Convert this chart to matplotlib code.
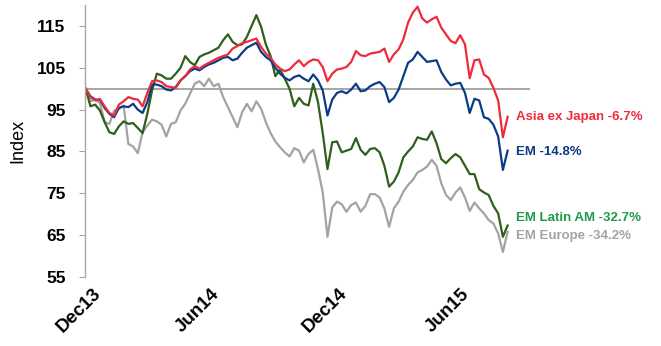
import numpy as np
import pandas as pd
import matplotlib
matplotlib.use("Agg")
import matplotlib.pyplot as plt

# weekly index levels, rebased to 100 at the start of Dec 2013
dates = pd.date_range("2013-12-02", periods=90, freq="7D")

asia_ex_japan = [
    100.0, 98.0, 97.2, 97.5, 95.8, 94.2, 93.6, 96.2, 97.0, 98.0,
    97.6, 97.4, 95.8, 99.0, 101.8, 102.0, 101.6, 100.6, 100.4, 100.2,
    102.0, 103.0, 104.6, 105.4, 104.8, 105.6, 106.2, 106.8, 107.4, 107.8,
    108.2, 109.6, 110.2, 110.9, 111.2, 111.6, 112.0, 110.0, 108.4, 107.4,
    105.8, 104.8, 104.2, 104.6, 105.8, 106.8, 105.4, 106.4, 107.0, 106.8,
    105.2, 101.8, 103.6, 104.6, 104.8, 105.2, 106.4, 109.0, 108.0, 107.8,
    108.4, 108.6, 108.8, 109.6, 106.4, 108.2, 109.4, 111.8, 115.8, 118.2,
    119.6, 116.8, 115.8, 116.6, 117.2, 114.6, 113.0, 111.4, 110.9, 112.8,
    110.6, 102.5, 106.8, 107.0, 103.4, 102.6, 100.2, 97.2, 88.4, 93.3,
]
em = [
    100.0, 98.2, 97.4, 97.4, 95.4, 94.0, 93.2, 95.4, 95.8, 95.6,
    96.4, 95.0, 94.2, 96.8, 101.0, 101.0, 100.6, 99.8, 99.6, 100.4,
    102.0, 103.0, 104.2, 104.8, 104.4, 105.2, 105.8, 106.2, 106.8, 107.4,
    107.6, 106.8, 107.2, 108.6, 109.8, 110.4, 111.0, 108.8, 107.6, 106.8,
    105.0, 103.6, 102.6, 102.0, 102.8, 103.2, 102.4, 101.8, 103.4, 102.0,
    99.6, 93.6, 97.4, 99.0, 99.4, 98.9, 99.8, 101.2, 99.4, 99.6,
    100.6, 101.2, 101.6, 100.4, 96.8, 97.8, 99.8, 103.0, 106.2, 107.0,
    108.8, 107.6, 106.4, 106.6, 106.8, 104.0, 102.2, 100.8, 101.2, 101.4,
    99.0, 94.2, 97.6, 97.2, 93.2, 92.8, 91.4, 88.6, 80.6, 85.2,
]
em_latam = [
    100.0, 95.8, 96.2, 94.8, 92.0, 89.6, 89.2, 91.0, 92.2, 91.6,
    91.8, 90.6, 89.4, 94.0, 99.6, 103.6, 103.2, 102.4, 102.4, 103.6,
    105.0, 107.8, 106.4, 105.6, 107.6, 108.2, 108.6, 109.2, 109.8, 111.6,
    113.0, 111.2, 110.4, 110.6, 112.4, 115.0, 117.6, 114.8, 110.6, 107.8,
    103.0, 104.6, 102.4, 100.0, 95.8, 97.8, 96.4, 96.0, 101.2, 96.8,
    89.4, 80.8, 87.2, 87.4, 84.8, 85.2, 85.6, 88.2, 85.4, 84.2,
    85.6, 85.8, 84.8, 81.6, 76.6, 77.8, 80.0, 83.6, 85.0, 86.2,
    88.4, 88.0, 87.8, 89.8, 87.0, 83.2, 82.2, 83.4, 84.4, 83.6,
    81.6, 79.6, 79.6, 76.0, 75.2, 74.6, 72.0, 70.2, 64.6, 67.3,
]
em_europe = [
    100.0, 97.0, 97.4, 96.6, 92.0, 91.6, 94.8, 95.2, 96.0, 86.8,
    86.2, 84.6, 89.6, 91.2, 92.6, 92.2, 91.4, 88.6, 91.6, 92.0,
    94.8, 96.4, 98.8, 101.2, 101.8, 100.6, 102.4, 100.6, 101.2, 98.0,
    95.6, 93.2, 90.8, 94.4, 96.4, 94.6, 97.0, 95.2, 92.0, 89.4,
    87.4, 86.0, 84.8, 83.8, 85.8, 85.2, 82.4, 84.4, 85.4, 80.8,
    75.2, 64.6, 71.6, 73.0, 72.4, 70.6, 72.2, 72.8, 70.6, 72.0,
    74.8, 74.8, 74.0, 71.4, 67.0, 71.4, 73.0, 75.4, 77.0, 78.2,
    80.0, 80.6, 81.4, 83.0, 81.6, 77.4, 74.6, 73.4, 75.2, 76.4,
    74.0, 70.8, 72.8, 71.4, 70.2, 68.6, 67.8, 65.4, 61.0, 65.8,
]

names = ["Asia ex Japan", "EM", "EM Latin AM", "EM Europe"]
changes = [-6.7, -14.8, -32.7, -34.2]
tick_dates = pd.to_datetime(["2013-12-12", "2014-06-04", "2014-12-10", "2015-06-08"])
tick_labels = ["Dec13", "Jun14", "Dec14", "Jun15"]
yticks = [55, 65, 75, 85, 95, 105, 115]

line_colors = ["#ee2a3c", "#0b3a86", "#2f5f1c", "#a3a3a3"]
text_colors = ["#ee2a3c", "#0b3a86", "#1e9a4a", "#a3a3a3"]
label_y = [93.3, 84.8, 69.2, 64.8]

plt.rcParams["font.family"] = ["Liberation Sans", "DejaVu Sans"]

fig = plt.figure(figsize=(6.61, 3.46), dpi=100)
ax = fig.add_axes([0.1286, 0.1994, 0.6732, 0.786])

ax.axhline(100, color="#a6a6a6", lw=1.4, zorder=1)

series = [asia_ex_japan, em, em_latam, em_europe]
# draw back to front so the red line sits on top
for vals, col in zip(series[::-1], line_colors[::-1]):
    ax.plot(dates, vals, color=col, lw=1.6, zorder=2)

for name, chg, col, yv in zip(names, changes, text_colors, label_y):
    ax.annotate(f"{name} {chg:.1f}%", xy=(dates[-1], yv), xytext=(6, 0),
                textcoords="offset points", va="center", ha="left",
                color=col, fontsize=9.5, fontweight="bold",
                annotation_clip=False)

ax.set_xlim(dates[0] - pd.Timedelta(days=1), dates[-1] + pd.Timedelta(days=33))
ax.set_ylim(55, 120)
ax.set_yticks(yticks)
ax.set_yticklabels([str(v) for v in yticks], fontsize=12.5, fontweight="bold")
ax.set_xticks(tick_dates)
ax.set_xticklabels(tick_labels, rotation=45, ha="right", rotation_mode="anchor",
                   fontsize=13.5, fontweight="bold")
ax.set_ylabel("Index", fontsize=13, labelpad=7)

for side in ["top", "right", "bottom"]:
    ax.spines[side].set_visible(False)
ax.spines["left"].set_color("#a6a6a6")
ax.spines["left"].set_linewidth(1.0)
ax.tick_params(axis="y", direction="out", length=4, color="#a6a6a6", pad=10)
ax.tick_params(axis="x", length=0, pad=6)

fig.savefig("out.png", dpi=100)
